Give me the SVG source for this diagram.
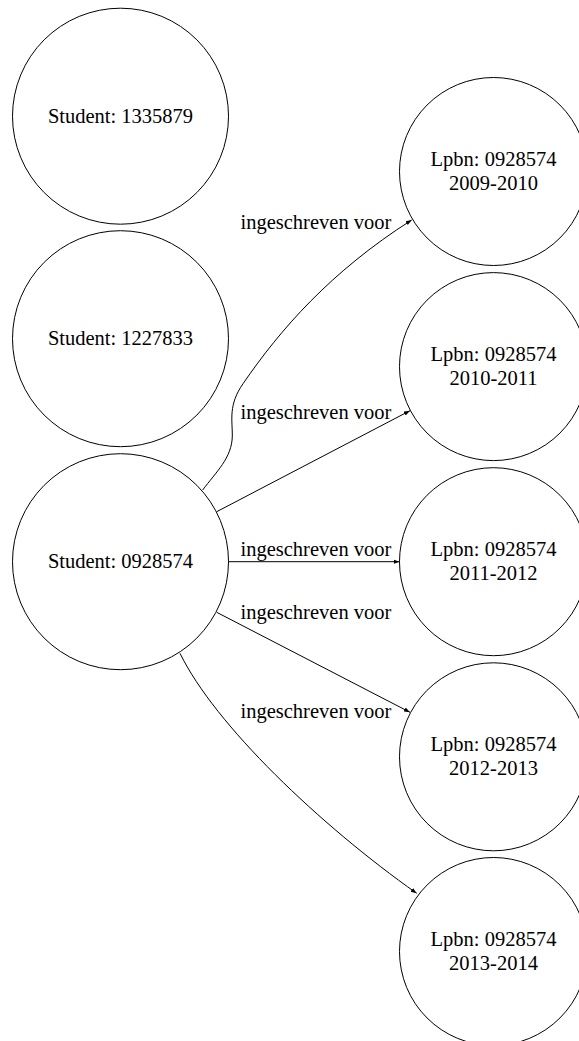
<svg xmlns="http://www.w3.org/2000/svg" width="579" height="1041" viewBox="0 0 579 1041">
  <style>
    .node ellipse { fill: #ffffff; stroke: #000000; stroke-width: 1; }
    .node text { font-family: "Liberation Serif", "Times New Roman", serif; font-size: 20.5px; fill: #000000; text-anchor: middle; }
    .edge path { fill: none; stroke: #000000; stroke-width: 1; }
    .edge text { font-family: "Liberation Serif", "Times New Roman", serif; font-size: 20.5px; fill: #000000; }
  </style>
  <defs>
    <marker id="arrow" markerUnits="userSpaceOnUse" markerWidth="8" markerHeight="6" refX="6" refY="3" orient="auto">
      <path d="M0,0.8 L6,3 L0,5.2 Z" fill="#000000"/>
    </marker>
  </defs>
  <rect width="579" height="1041" fill="#ffffff"/>

  <!-- student nodes -->
  <g id="student_1335879" class="node">
    <ellipse cx="120.5" cy="116.2" rx="108" ry="108"/>
    <text x="120.5" y="123">Student: 1335879</text>
  </g>
  <g id="student_1227833" class="node">
    <ellipse cx="120.5" cy="338.7" rx="108" ry="108"/>
    <text x="120.5" y="345.4">Student: 1227833</text>
  </g>
  <g id="student_0928574" class="node">
    <ellipse cx="120.5" cy="561.7" rx="108" ry="108"/>
    <text x="120.5" y="568.4">Student: 0928574</text>
  </g>

  <!-- enrolment nodes -->
  <g id="lpbn_2009_2010" class="node">
    <ellipse cx="493.5" cy="171.5" rx="94" ry="94"/>
    <text x="493.5" y="166">Lpbn: 0928574</text>
    <text x="493.5" y="190">2009-2010</text>
  </g>
  <g id="lpbn_2010_2011" class="node">
    <ellipse cx="493.5" cy="366.6" rx="94" ry="94"/>
    <text x="493.5" y="361.1">Lpbn: 0928574</text>
    <text x="493.5" y="385.1">2010-2011</text>
  </g>
  <g id="lpbn_2011_2012" class="node">
    <ellipse cx="493.5" cy="561.7" rx="94" ry="94"/>
    <text x="493.5" y="556.2">Lpbn: 0928574</text>
    <text x="493.5" y="580.2">2011-2012</text>
  </g>
  <g id="lpbn_2012_2013" class="node">
    <ellipse cx="493.5" cy="756.8" rx="94" ry="94"/>
    <text x="493.5" y="751.3">Lpbn: 0928574</text>
    <text x="493.5" y="775.3">2012-2013</text>
  </g>
  <g id="lpbn_2013_2014" class="node">
    <ellipse cx="493.5" cy="951.5" rx="94" ry="94"/>
    <text x="493.5" y="946">Lpbn: 0928574</text>
    <text x="493.5" y="970">2013-2014</text>
  </g>

  <!-- connectors -->
  <g id="edges" class="edge">
    <path d="M202.7,490 C216,472 232,458 232.3,436 C232.5,420 228,405 243.3,383.3 C280,330 330,272 411.7,220" marker-end="url(#arrow)"/>
    <text x="240.5" y="229">ingeschreven voor</text>

    <path d="M216.7,511.7 L410,410.7" marker-end="url(#arrow)"/>
    <text x="240.5" y="419">ingeschreven voor</text>

    <path d="M228.5,561.7 L399.5,561.7" marker-end="url(#arrow)"/>
    <text x="240.5" y="556">ingeschreven voor</text>

    <path d="M216.7,612.3 L410,712.3" marker-end="url(#arrow)"/>
    <text x="240.5" y="618.7">ingeschreven voor</text>

    <path d="M180,653.3 C215,725 320,825 416.7,893.3" marker-end="url(#arrow)"/>
    <text x="240.5" y="718.3">ingeschreven voor</text>
  </g>
</svg>
